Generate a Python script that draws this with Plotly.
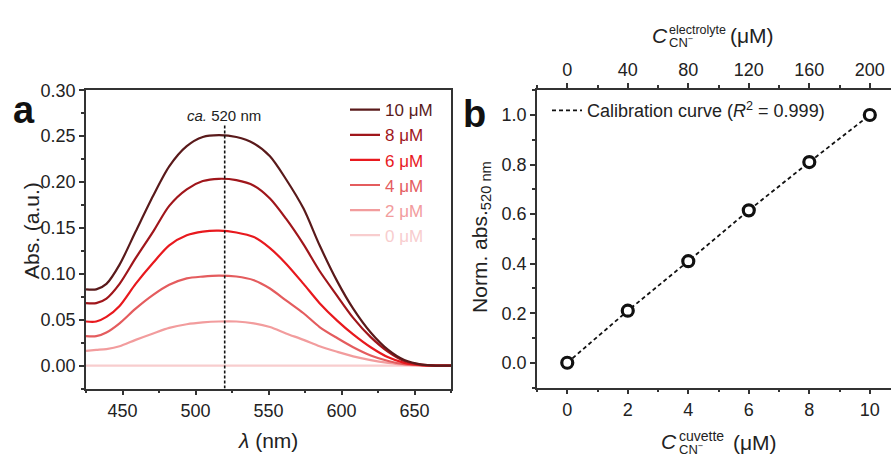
import plotly.graph_objects as go

# ---------------- data: panel a (UV-vis spectra) ----------------
wavelength = [425, 432, 439, 448, 459, 471, 482, 494, 505, 516, 528, 540, 551,
              562, 574, 585, 597, 608, 620, 632, 643, 655, 665, 675]
abs_10uM = [0.083, 0.083, 0.089, 0.110, 0.146, 0.185, 0.217, 0.239, 0.249, 0.251, 0.249, 0.242, 0.228,
            0.203, 0.171, 0.131, 0.092, 0.062, 0.036, 0.017, 0.006, 0.001, 0.000, 0.000]
abs_8uM = [0.068, 0.068, 0.073, 0.089, 0.117, 0.146, 0.174, 0.192, 0.201, 0.2035, 0.202, 0.196, 0.182,
           0.160, 0.132, 0.103, 0.076, 0.052, 0.031, 0.015, 0.005, 0.001, 0.000, 0.000]
abs_6uM = [0.048, 0.048, 0.053, 0.065, 0.089, 0.112, 0.131, 0.142, 0.146, 0.147, 0.145, 0.140, 0.128,
           0.111, 0.089, 0.068, 0.049, 0.034, 0.020, 0.009, 0.003, 0.0005, 0.000, 0.000]
abs_4uM = [0.032, 0.032, 0.036, 0.046, 0.062, 0.077, 0.088, 0.095, 0.097, 0.098, 0.097, 0.093, 0.084,
           0.071, 0.057, 0.042, 0.030, 0.020, 0.011, 0.005, 0.0015, 0.0003, 0.000, 0.000]
abs_2uM = [0.016, 0.017, 0.018, 0.021, 0.028, 0.035, 0.041, 0.045, 0.047, 0.048, 0.048, 0.046, 0.042,
           0.035, 0.028, 0.021, 0.015, 0.010, 0.006, 0.003, 0.001, 0.000, 0.000, 0.000]
abs_0uM = [0.000, 0.000, 0.000, 0.000, 0.000, 0.000, 0.000, 0.000, 0.000, 0.000, 0.000, 0.000, 0.000,
           0.000, 0.000, 0.000, 0.000, 0.000, 0.000, 0.000, 0.000, 0.000, 0.000, 0.000]
series_labels = ["0 μM", "2 μM", "4 μM", "6 μM", "8 μM", "10 μM"]
series_values = [abs_0uM, abs_2uM, abs_4uM, abs_6uM, abs_8uM, abs_10uM]
series_colors = ["#F8CDCE", "#F29C9D", "#E45C5E", "#E8191E", "#A0161B", "#5A1A1B"]
peak_wavelength = 520

# ---------------- data: panel b (calibration) ----------------
cuvette_conc = [0, 2, 4, 6, 8, 10]
norm_abs = [0.0, 0.21, 0.41, 0.615, 0.81, 1.0]
electrolyte_ticks = [0, 40, 80, 120, 160, 200]

FONT = "Arial, Liberation Sans, sans-serif"
AX = "#333333"
TXT = "#222222"
W, H = 891, 456

fig = go.Figure()

for lab, vals, col in zip(series_labels, series_values, series_colors):
    fig.add_trace(go.Scatter(
        x=wavelength, y=vals, mode="lines",
        line=dict(color=col, width=2.2, shape="spline", smoothing=0.8),
        name=f'<span style="color:{col}">{lab}</span>',
        xaxis="x", yaxis="y", legend="legend", hoverinfo="skip"))

# calibration dashed line
fig.add_trace(go.Scatter(
    x=cuvette_conc, y=norm_abs, mode="lines",
    line=dict(color="#111111", width=1.8, dash="4px,3px"),
    name="Calibration curve (<i>R</i><sup>2</sup> = 0.999)",
    xaxis="x2", yaxis="y2", legend="legend2", hoverinfo="skip"))
fig.add_trace(go.Scatter(
    x=cuvette_conc, y=norm_abs, mode="markers",
    marker=dict(symbol="circle", size=11, color="white",
                line=dict(color="#111111", width=3.2)),
    showlegend=False, xaxis="x2", yaxis="y2", hoverinfo="skip"))
# top axis carrier (invisible)
fig.add_trace(go.Scatter(
    x=electrolyte_ticks, y=norm_abs, mode="markers",
    marker=dict(opacity=0), showlegend=False,
    xaxis="x3", yaxis="y2", hoverinfo="skip"))

def px(x):
    return x / W

def py(y):
    return 1 - y / H

common = dict(showline=True, linecolor=AX, linewidth=1.5, ticks="outside",
              ticklen=5, tickwidth=1.5, tickcolor=AX, showgrid=False,
              zeroline=False, tickfont=dict(size=18, color=TXT, family=FONT))

fig.update_layout(
    width=W, height=H, margin=dict(l=0, r=0, t=0, b=0),
    paper_bgcolor="white", plot_bgcolor="white",
    font=dict(family=FONT, color=TXT),
    xaxis=dict(domain=[px(86), px(451)], range=[425, 675], anchor="y",
               dtick=50, mirror=True,
               minor=dict(ticks="outside", ticklen=3, dtick=25, tickcolor=AX, tickwidth=1.5),
               **common),
    yaxis=dict(domain=[py(387), py(82)], range=[-0.025, 0.30], anchor="x",
               dtick=0.05, tickformat=".2f", mirror=True,
               minor=dict(ticks="outside", ticklen=3, dtick=0.025, tickcolor=AX, tickwidth=1.5),
               **common),
    xaxis2=dict(domain=[px(537), 1.0], range=[-1, 10.7], anchor="y2",
                dtick=2,
                minor=dict(ticks="outside", ticklen=3, dtick=1, tickcolor=AX, tickwidth=1.5),
                **common),
    xaxis3=dict(overlaying="x2", side="top", anchor="y2", range=[-20, 214],
                dtick=40,
                minor=dict(ticks="outside", ticklen=3, dtick=20, tickcolor=AX, tickwidth=1.5),
                **common),
    yaxis2=dict(domain=[py(386), py(82)], range=[-0.1, 1.1], anchor="x2",
                dtick=0.2, tickformat=".1f",
                minor=dict(ticks="outside", ticklen=3, dtick=0.1, tickcolor=AX, tickwidth=1.5),
                **common),
    legend=dict(x=px(345), y=py(84), xanchor="left", yanchor="top",
                traceorder="reversed", bgcolor="rgba(0,0,0,0)",
                font=dict(size=17, family=FONT), itemwidth=30,
                tracegroupgap=0),
    legend2=dict(x=px(547), y=py(84), xanchor="left", yanchor="top",
                 bgcolor="rgba(0,0,0,0)", font=dict(size=18, family=FONT, color=TXT)),
    showlegend=True,
)

# dashed marker line at 520 nm
fig.add_shape(type="line", xref="x", yref="y", x0=peak_wavelength, x1=peak_wavelength,
              y0=-0.025, y1=0.262, line=dict(color="#111111", width=1.6, dash="3px,2px"))

ann = []
def add(text, x, y, size, xanchor="center", yanchor="middle", angle=0, bold=False):
    ann.append(dict(text=text, x=px(x), y=py(y), xref="paper", yref="paper",
                    xanchor=xanchor, yanchor=yanchor, showarrow=False,
                    textangle=angle,
                    font=dict(size=size, family=FONT, color="#111111" if bold else TXT)))

add("<b>a</b>", 24, 102, 38, bold=True)
add("<b>b</b>", 474, 106, 38, bold=True)
add("<i>ca.</i> 520 nm", 224, 108, 15)
add("Abs. (a.u.)", 31, 226, 21, angle=-90)
add("<i>λ</i> (nm)", 268, 440, 21)
add("Norm. abs.<sub>520 nm</sub>", 481, 232, 21, angle=-90)
# bottom title of panel b
add("<i>C</i>", 669, 441, 21)
add("cuvette", 677, 436, 14, xanchor="left")
add("CN<sup>−</sup>", 677, 449, 13, xanchor="left")
add("(μM)", 731, 442, 21, xanchor="left")
# top title of panel b
add("<i>C</i>", 660, 26, 21)
add("electrolyte", 667, 20, 12.5, xanchor="left")
add("CN<sup>−</sup>", 667, 33, 13, xanchor="left")
add("(μM)", 728, 26, 21, xanchor="left")
fig.update_layout(annotations=ann)

fig.write_html(
    "out.html",
    config={"displayModeBar": False},
    post_script=("document.body.style.margin='0px';"
                 "document.body.style.overflow='hidden';"
                 "var gd=document.getElementById('{plot_id}');"
                 "gd.style.position='absolute';gd.style.top='0px';gd.style.left='0px';"),
)
